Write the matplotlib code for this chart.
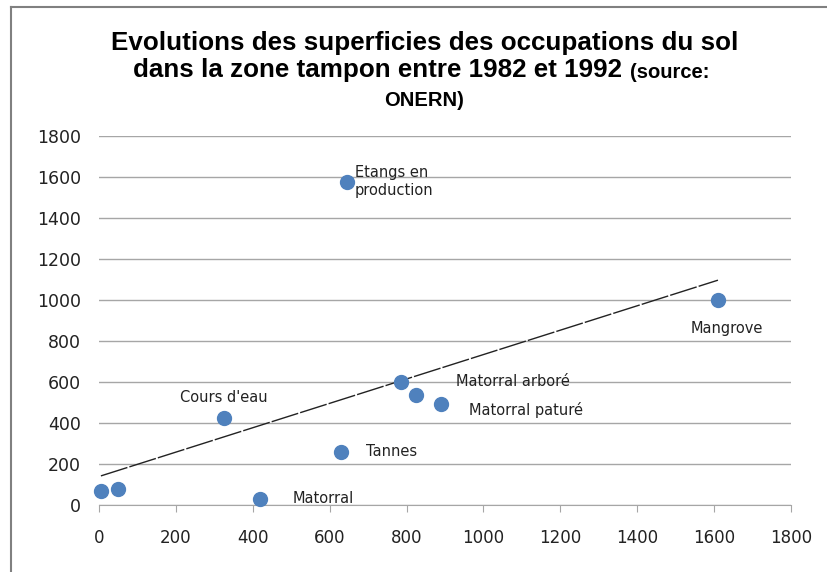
import matplotlib
matplotlib.use("Agg")
import matplotlib.pyplot as plt
import numpy as np

plt.rcParams['font.family'] = ['Liberation Sans', 'DejaVu Sans']

labels = ["", "", "Cours d'eau", "Matorral", "Etangs en\nproduction", "Tannes",
          "Matorral arboré", "", "Matorral paturé", "Mangrove"]
x_1982 = [5, 50, 325, 420, 645, 630, 785, 825, 890, 1610]
y_1992 = [70, 80, 425, 30, 1575, 260, 600, 535, 495, 1000]
xticks = [0, 200, 400, 600, 800, 1000, 1200, 1400, 1600, 1800]
yticks = [0, 200, 400, 600, 800, 1000, 1200, 1400, 1600, 1800]

# label offsets in pixels (dx, dy, ha, va)
offsets = [None, None, (0, 13, 'center', 'bottom'), (32, 0, 'left', 'center'),
           (8, 1, 'left', 'center'), (25, 0, 'left', 'center'),
           (55, 1, 'left', 'center'), None, (28, -6, 'left', 'center'),
           (9, -21, 'center', 'top')]

fig = plt.figure(figsize=(8.27, 5.72), dpi=100)
ax = fig.add_axes([0.1197, 0.1171, 0.8368, 0.6451])

ax.set_xlim(0, 1800)
ax.set_ylim(0, 1800)
ax.set_xticks(xticks)
ax.set_yticks(yticks)
ax.set_xticklabels([str(t) for t in xticks], fontsize=12, color='#222222', family='DejaVu Sans')
ax.set_yticklabels([str(t) for t in yticks], fontsize=12.5, color='#222222', family='DejaVu Sans')
ax.yaxis.grid(True, color='#A6A6A6', linewidth=1)
ax.set_axisbelow(True)
for s in ['top', 'right', 'left']:
    ax.spines[s].set_visible(False)
ax.spines['bottom'].set_color('#A6A6A6')
ax.tick_params(axis='y', length=0, pad=13)
ax.tick_params(axis='x', direction='out', length=5, color='#A6A6A6', pad=12)

# trend line (linear regression)
xa = np.array(x_1982, dtype=float)
ya = np.array(y_1992, dtype=float)
m, b = np.polyfit(xa, ya, 1)
xl = np.array([xa.min(), xa.max()])
ax.plot(xl, m * xl + b, color='#222222', linewidth=1, dashes=(20, 1.5), zorder=2)

ax.scatter(x_1982, y_1992, s=100, color='#4F81BD', zorder=3, clip_on=False)

for xi, yi, lab, off in zip(x_1982, y_1992, labels, offsets):
    if off is None or not lab:
        continue
    dx, dy, ha, va = off
    ax.annotate(lab, (xi, yi), xytext=(dx * 0.72, dy * 0.72), textcoords='offset points',
                ha=ha, va=va, fontsize=10.5, color='#222222', linespacing=1.25,
                family='DejaVu Sans')

# title
fig.text(0.514, 0.925, "Evolutions des superficies des occupations du sol",
         ha='center', va='center', fontsize=18.7, fontweight='bold')
fig.text(622 / 827, 0.877, "dans la zone tampon entre 1982 et 1992",
         ha='right', va='center', fontsize=18.7, fontweight='bold')
fig.text(630 / 827, 0.874, "(source:", ha='left', va='center', fontsize=14.5, fontweight='bold')
fig.text(0.513, 0.825, "ONERN)", ha='center', va='center', fontsize=14.5, fontweight='bold')

# chart frame (left and top edges)
fig.add_artist(plt.Line2D([11 / 827, 11 / 827], [0, 1 - 7 / 572], transform=fig.transFigure,
                          color='#808080', linewidth=1.5))
fig.add_artist(plt.Line2D([11 / 827, 1], [1 - 7 / 572, 1 - 7 / 572], transform=fig.transFigure,
                          color='#808080', linewidth=1.5))

fig.savefig("out.png", dpi=100)
